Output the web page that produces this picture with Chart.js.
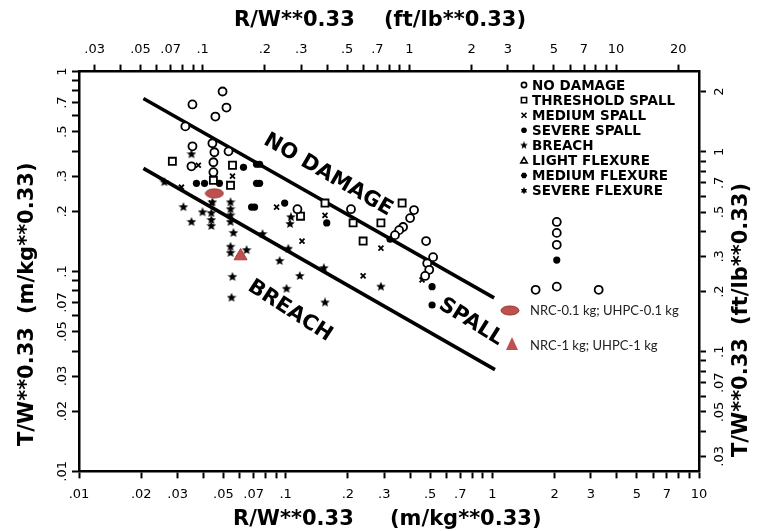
<!DOCTYPE html>
<html>
<head>
<meta charset="utf-8">
<script src="https://cdn.jsdelivr.net/npm/chart.js@4.4.1/dist/chart.umd.min.js"></script>
<style>
html, body { margin: 0; padding: 0; background: #fff; }
#wrap { width: 764px; height: 531px; }
</style>
</head>
<body>
<div id="wrap"><canvas id="chart" width="764" height="531"></canvas></div>
<script>
// values: R/W**0.33 and T/W**0.33, both in m/kg**0.33
const noDamageR = [0.0495, 0.0354, 0.0517, 0.0457, 0.0327, 0.0354, 0.0442, 0.0452, 0.0529, 0.0350, 0.0447, 0.0447, 0.114, 0.207, 0.418, 0.400, 0.370, 0.354, 0.338, 0.478, 0.517, 0.484, 0.495, 0.473, 2.05, 2.05, 2.05, 2.05, 1.62, 3.27];
const noDamageT = [0.795, 0.685, 0.661, 0.596, 0.532, 0.423, 0.438, 0.395, 0.399, 0.336, 0.352, 0.314, 0.205, 0.205, 0.203, 0.185, 0.167, 0.161, 0.152, 0.142, 0.118, 0.110, 0.102, 0.095, 0.177, 0.156, 0.136, 0.084, 0.081, 0.081];

const thresholdR = [0.0283, 0.0553, 0.0541, 0.0447, 0.118, 0.155, 0.212, 0.289, 0.366, 0.237];
const thresholdT = [0.356, 0.340, 0.270, 0.286, 0.189, 0.220, 0.175, 0.175, 0.220, 0.142];

const mediumSpallR = [0.0378, 0.0553, 0.0313, 0.0437, 0.0904, 0.155, 0.120, 0.289, 0.237, 0.457];
const mediumSpallT = [0.340, 0.300, 0.264, 0.220, 0.210, 0.191, 0.142, 0.131, 0.095, 0.0907];

const severeSpallR = [0.0625, 0.0723, 0.0748, 0.0723, 0.0748, 0.0370, 0.0405, 0.0478, 0.0989, 0.158, 0.0707, 0.0684, 0.320, 0.511, 0.511, 2.05];
const severeSpallT = [0.332, 0.344, 0.344, 0.276, 0.276, 0.276, 0.276, 0.276, 0.220, 0.175, 0.210, 0.210, 0.145, 0.084, 0.068, 0.114];

const breachR = [0.0350, 0.0259, 0.0320, 0.0396, 0.0350, 0.0437, 0.0437, 0.0437, 0.0442, 0.0541, 0.0541, 0.0541, 0.0541, 0.0559, 0.0541, 0.0541, 0.0647, 0.0553, 0.0547, 0.106, 0.105, 0.0773, 0.103, 0.0935, 0.117, 0.101, 0.153, 0.289, 0.155];
const breachT = [0.386, 0.280, 0.210, 0.198, 0.177, 0.196, 0.181, 0.169, 0.222, 0.222, 0.205, 0.191, 0.177, 0.156, 0.133, 0.124, 0.128, 0.094, 0.074, 0.187, 0.173, 0.154, 0.130, 0.113, 0.095, 0.082, 0.104, 0.084, 0.070];

// boundary lines
const noDamageLineR = [0.0205, 1.02];
const noDamageLineT = [0.733, 0.0738];
const breachLineR = [0.0205, 1.03];
const breachLineT = [0.328, 0.0323];

// the two added test points
const uhpc01R = [0.0452];
const uhpc01T = [0.246];
const uhpc1R = [0.0605];
const uhpc1T = [0.1195];

const legendLabels = ["NO DAMAGE", "THRESHOLD SPALL", "MEDIUM SPALL", "SEVERE SPALL", "BREACH", "LIGHT FLEXURE", "MEDIUM FLEXURE", "SEVERE FLEXURE"];
const testLabels = ["NRC-0.1 kg; UHPC-0.1 kg", "NRC-1 kg; UHPC-1 kg"];

// tick labels
const bottomLabels = [".01", ".02", ".03", ".05", ".07", ".1", ".2", ".3", ".5", ".7", "1", "2", "3", "5", "7", "10"];
const topLabels = [".03", ".05", ".07", ".1", ".2", ".3", ".5", ".7", "1", "2", "3", "5", "7", "10", "20"];
const leftLabels = [".01", ".02", ".03", ".05", ".07", ".1", ".2", ".3", ".5", ".7", "1"];
const rightLabels = [".03", ".05", ".07", ".1", ".2", ".3", ".5", ".7", "1", "2"];

const FT_PER_M = 2.5208; // (ft/lb**0.33) per (m/kg**0.33)

function pts(xs, ys) {
    return xs.map((x, i) => ({ x: x, y: ys[i] }));
}

// minor ticks: every 1..9 step of each decade between lo and hi
function logTicks(lo, hi) {
    const out = [];
    for (let e = -3; e <= 2; e++) {
        for (let m = 1; m <= 9; m++) {
            const v = parseFloat((m * Math.pow(10, e)).toPrecision(6));
            if (v >= lo * 0.999 && v <= hi * 1.001) out.push(v);
        }
    }
    return out;
}

function labelFor(v, labels) {
    const hit = labels.find(s => Math.abs(parseFloat(s) - v) < v * 1e-6);
    return hit || "";
}

function makeStar(size) {
    const c = document.createElement("canvas");
    c.width = c.height = size;
    const g = c.getContext("2d");
    const ro = size / 2, ri = ro * 0.45;
    g.beginPath();
    for (let i = 0; i < 10; i++) {
        const r = i % 2 ? ri : ro;
        const a = -Math.PI / 2 + i * Math.PI / 5;
        g.lineTo(ro + r * Math.cos(a), ro + r * Math.sin(a));
    }
    g.closePath();
    g.fillStyle = "#000";
    g.fill();
    return c;
}

function makeEllipse(w, h) {
    const c = document.createElement("canvas");
    c.width = w;
    c.height = h;
    const g = c.getContext("2d");
    g.beginPath();
    g.ellipse(w / 2, h / 2, w / 2 - 1, h / 2 - 1, 0, 0, Math.PI * 2);
    g.fillStyle = "#c0504d";
    g.fill();
    g.lineWidth = 1;
    g.strokeStyle = "#953735";
    g.stroke();
    return c;
}

const starImg = makeStar(10);
const smallStar = makeStar(8);
const ellipseImg = makeEllipse(20, 11);

const tickFont = { family: "DejaVu Sans", size: 13 };
const titleFont = 'bold 21px "DejaVu Sans"';

function axisStyle(extra) {
    return Object.assign({
        type: "logarithmic",
        grid: { drawOnChartArea: false, drawTicks: true, tickLength: 7, tickWidth: 2, tickColor: "#000", color: "#000" },
        border: { display: true, color: "#000", width: 2.5 }
    }, extra);
}

function rotText(ctx, s, x, y, align) {
    ctx.save();
    ctx.translate(x, y);
    ctx.rotate(-Math.PI / 2);
    ctx.textAlign = align || "center";
    ctx.fillText(s, 0, 0);
    ctx.restore();
}

function angText(ctx, s, x, y, deg) {
    ctx.save();
    ctx.translate(x, y);
    ctx.rotate(deg * Math.PI / 180);
    ctx.textAlign = "center";
    ctx.textBaseline = "middle";
    ctx.fillText(s, 0, 0);
    ctx.restore();
}

function legendSymbol(ctx, i, x, y) {
    ctx.save();
    ctx.strokeStyle = "#000";
    ctx.fillStyle = "#000";
    ctx.lineWidth = 1.6;
    ctx.beginPath();
    if (i === 0) {
        ctx.arc(x, y, 2.6, 0, Math.PI * 2);
        ctx.stroke();
    } else if (i === 1) {
        ctx.rect(x - 2.6, y - 2.6, 5.2, 5.2);
        ctx.stroke();
    } else if (i === 2) {
        ctx.moveTo(x - 2.5, y - 2.5); ctx.lineTo(x + 2.5, y + 2.5);
        ctx.moveTo(x + 2.5, y - 2.5); ctx.lineTo(x - 2.5, y + 2.5);
        ctx.stroke();
    } else if (i === 3) {
        ctx.arc(x, y, 2.8, 0, Math.PI * 2);
        ctx.fill();
    } else if (i === 4) {
        ctx.drawImage(smallStar, x - 4, y - 4);
    } else if (i === 5) {
        ctx.moveTo(x, y - 3.2); ctx.lineTo(x + 3.2, y + 2.4); ctx.lineTo(x - 3.2, y + 2.4); ctx.closePath();
        ctx.stroke();
    } else if (i === 6) {
        for (let k = 0; k < 6; k++) {
            const a = k * Math.PI / 3;
            ctx.lineTo(x + 3.2 * Math.cos(a), y + 3.2 * Math.sin(a));
        }
        ctx.closePath();
        ctx.fill();
    } else {
        for (let k = 0; k < 12; k++) {
            const r = k % 2 ? 2 : 3.6;
            const a = -Math.PI / 2 + k * Math.PI / 6;
            ctx.lineTo(x + r * Math.cos(a), y + r * Math.sin(a));
        }
        ctx.closePath();
        ctx.fill();
    }
    ctx.restore();
}

const overlay = {
    id: "overlay",
    afterDraw(chart) {
        const ctx = chart.ctx;
        const yL = chart.scales.y, yR = chart.scales.y2;
        ctx.save();
        ctx.fillStyle = "#000";

        // rotated tick labels on both vertical axes
        ctx.font = '13px "DejaVu Sans"';
        ctx.textBaseline = "middle";
        leftLabels.forEach(s => rotText(ctx, s, 63, yL.getPixelForValue(parseFloat(s))));
        rightLabels.forEach(s => rotText(ctx, s, 720, yR.getPixelForValue(parseFloat(s))));

        // axis titles
        ctx.font = titleFont;
        ctx.textAlign = "left";
        ctx.fillText("R/W**0.33", 234, 21);
        ctx.fillText("(ft/lb**0.33)", 384, 21);
        ctx.fillText("R/W**0.33", 233, 520);
        ctx.fillText("(m/kg**0.33)", 390, 520);
        rotText(ctx, "T/W**0.33", 28, 446, "left");
        rotText(ctx, "(m/kg**0.33)", 28, 314, "left");
        rotText(ctx, "T/W**0.33", 742, 457, "left");
        rotText(ctx, "(ft/lb**0.33)", 742, 325, "left");

        // region names along the boundary lines
        ctx.font = 'bold 21px "DejaVu Sans"';
        angText(ctx, "NO DAMAGE", 328, 175, 30);
        angText(ctx, "SPALL", 471, 322, 32);
        angText(ctx, "BREACH", 290, 311, 33);

        // damage legend
        ctx.font = 'bold 13.5px "DejaVu Sans"';
        ctx.textAlign = "left";
        legendLabels.forEach((s, i) => {
            const y = 85 + i * 15.1;
            legendSymbol(ctx, i, 524, y);
            ctx.fillText(s, 532, y + 1);
        });

        // test-point legend
        ctx.drawImage(ellipseImg, 500, 305);
        ctx.beginPath();
        ctx.moveTo(512, 337); ctx.lineTo(518, 350); ctx.lineTo(506, 350); ctx.closePath();
        ctx.fillStyle = "#c0504d";
        ctx.fill();
        ctx.fillStyle = "#222";
        ctx.font = '13px "Lato"';
        ctx.fillText(testLabels[0], 530, 311);
        ctx.fillText(testLabels[1], 530, 346);
        ctx.restore();
    }
};

Chart.defaults.font.family = "DejaVu Sans";
Chart.defaults.color = "#000";

new Chart(document.getElementById("chart"), {
    type: "scatter",
    data: {
        datasets: [
            {
                label: testLabels[0],
                data: pts(uhpc01R, uhpc01T),
                pointStyle: ellipseImg
            },
            {
                label: testLabels[1],
                data: pts(uhpc1R, uhpc1T),
                pointStyle: "triangle",
                pointRadius: 7.5,
                backgroundColor: "#c0504d",
                borderColor: "#a5403d",
                borderWidth: 1
            },
            {
                label: legendLabels[0],
                data: pts(noDamageR, noDamageT),
                pointStyle: "circle",
                pointRadius: 4,
                borderWidth: 1.8,
                borderColor: "#000",
                backgroundColor: "#fff"
            },
            {
                label: legendLabels[1],
                data: pts(thresholdR, thresholdT),
                pointStyle: "rect",
                pointRadius: 5,
                borderWidth: 1.8,
                borderColor: "#000",
                backgroundColor: "#fff"
            },
            {
                label: legendLabels[2],
                data: pts(mediumSpallR, mediumSpallT),
                pointStyle: "crossRot",
                pointRadius: 3.5,
                borderWidth: 1.8,
                borderColor: "#000"
            },
            {
                label: legendLabels[3],
                data: pts(severeSpallR, severeSpallT),
                pointStyle: "circle",
                pointRadius: 3.6,
                borderWidth: 0,
                backgroundColor: "#000"
            },
            {
                label: legendLabels[4],
                data: pts(breachR, breachT),
                pointStyle: starImg
            },
            {
                label: "no damage limit",
                data: pts(noDamageLineR, noDamageLineT),
                showLine: true,
                pointRadius: 0,
                borderColor: "#000",
                borderWidth: 3.5
            },
            {
                label: "breach limit",
                data: pts(breachLineR, breachLineT),
                showLine: true,
                pointRadius: 0,
                borderColor: "#000",
                borderWidth: 3.5
            }
        ]
    },
    options: {
        responsive: false,
        animation: false,
        events: [],
        layout: { padding: { left: 55, right: 41, top: 35, bottom: 21 } },
        plugins: {
            legend: { display: false },
            tooltip: { enabled: false }
        },
        scales: {
            x: axisStyle({
                position: "bottom",
                min: 0.01,
                max: 10,
                afterBuildTicks: s => { s.ticks = logTicks(0.01, 10).map(v => ({ value: v })); },
                ticks: { autoSkip: false, maxRotation: 0, padding: 8, font: tickFont, color: "#000",
                         callback: v => labelFor(v, bottomLabels) }
            }),
            x2: axisStyle({
                axis: "x",
                position: "top",
                min: 0.01 * FT_PER_M,
                max: 10 * FT_PER_M,
                afterBuildTicks: s => { s.ticks = logTicks(0.03, 20).map(v => ({ value: v })); },
                ticks: { autoSkip: false, maxRotation: 0, padding: 7, font: tickFont, color: "#000",
                         callback: v => labelFor(v, topLabels) }
            }),
            y: axisStyle({
                position: "left",
                min: 0.01,
                max: 1,
                afterBuildTicks: s => { s.ticks = logTicks(0.01, 1).map(v => ({ value: v })); },
                afterFit: s => { s.width = 24; },
                ticks: { display: false }
            }),
            y2: axisStyle({
                axis: "y",
                position: "right",
                min: 0.01 * FT_PER_M,
                max: 1 * FT_PER_M,
                afterBuildTicks: s => { s.ticks = logTicks(0.03, 2).map(v => ({ value: v })); },
                afterFit: s => { s.width = 24; },
                ticks: { display: false }
            })
        }
    },
    plugins: [overlay]
});
</script>
</body>
</html>
